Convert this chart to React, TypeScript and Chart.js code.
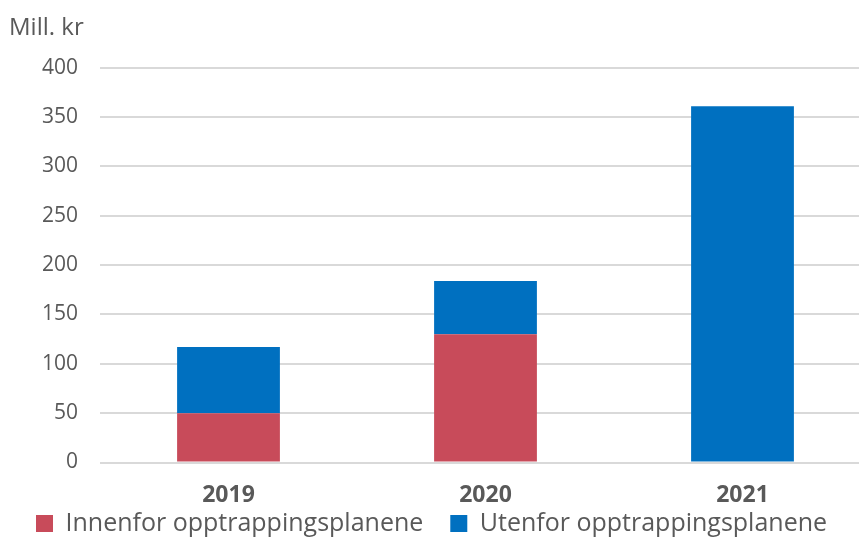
import React, { useEffect, useRef } from "react";
import { Chart, registerables } from "chart.js";

Chart.register(...registerables);

const categories = ["2019", "2020", "2021"];
const innenfor = [50, 130, 0];
const utenfor = [67, 54, 361];
const seriesNames = ["Innenfor opptrappingsplanene", "Utenfor opptrappingsplanene"];
const yTitle = "Mill. kr";

const TEXT = "#595959";
const FONT = "'Open Sans'";

export default function App() {
  const ref = useRef<HTMLCanvasElement | null>(null);
  useEffect(() => {
    if (!ref.current) return;
    const chart = new Chart(ref.current, {
      type: "bar",
      data: {
        labels: categories,
        datasets: [
          { label: seriesNames[0], data: innenfor, backgroundColor: "#C84B5A", borderWidth: 0 },
          { label: seriesNames[1], data: utenfor, backgroundColor: "#0070C0", borderWidth: 0 },
        ],
      },
      options: {
        responsive: false,
        animation: false,
        layout: { padding: { left: 9, right: 0, top: 0, bottom: -8 } },
        datasets: { bar: { categoryPercentage: 1, barPercentage: 0.4 } },
        plugins: {
          tooltip: { enabled: false },
          title: {
            display: true,
            text: yTitle,
            align: "start",
            color: TEXT,
            font: { family: FONT, size: 24, weight: "normal" },
            padding: { top: 14, bottom: 25 },
          },
          legend: {
            position: "bottom",
            align: "start",
            labels: {
              color: TEXT,
              font: { family: FONT, size: 25 },
              boxWidth: 17,
              boxHeight: 17,
              padding: 27,
            },
          },
        },
        scales: {
          x: {
            stacked: true,
            grid: { display: false, drawTicks: false },
            border: { display: false },
            ticks: { color: TEXT, font: { family: FONT, size: 23, weight: "bold" }, padding: -47, mirror: true },
            afterFit: (s: any) => { s.height = 21.5; },
          },
          y: {
            stacked: true,
            min: 0,
            max: 400,
            ticks: { stepSize: 50, color: TEXT, font: { family: FONT, size: 21 }, padding: 22 },
            grid: { color: "#D9D9D9", lineWidth: 2, drawTicks: false },
            border: { display: false },
            afterFit: (s: any) => { s.width = 91; },
          },
        },
      },
    });
    return () => chart.destroy();
  }, []);
  return (
    <div style={{ position: "fixed", left: 0, top: 0, width: 859, height: 538, overflow: "hidden", background: "#fff" }}>
      <canvas ref={ref} width={871} height={538} style={{ width: 871, height: 538 }} />
    </div>
  );
}
